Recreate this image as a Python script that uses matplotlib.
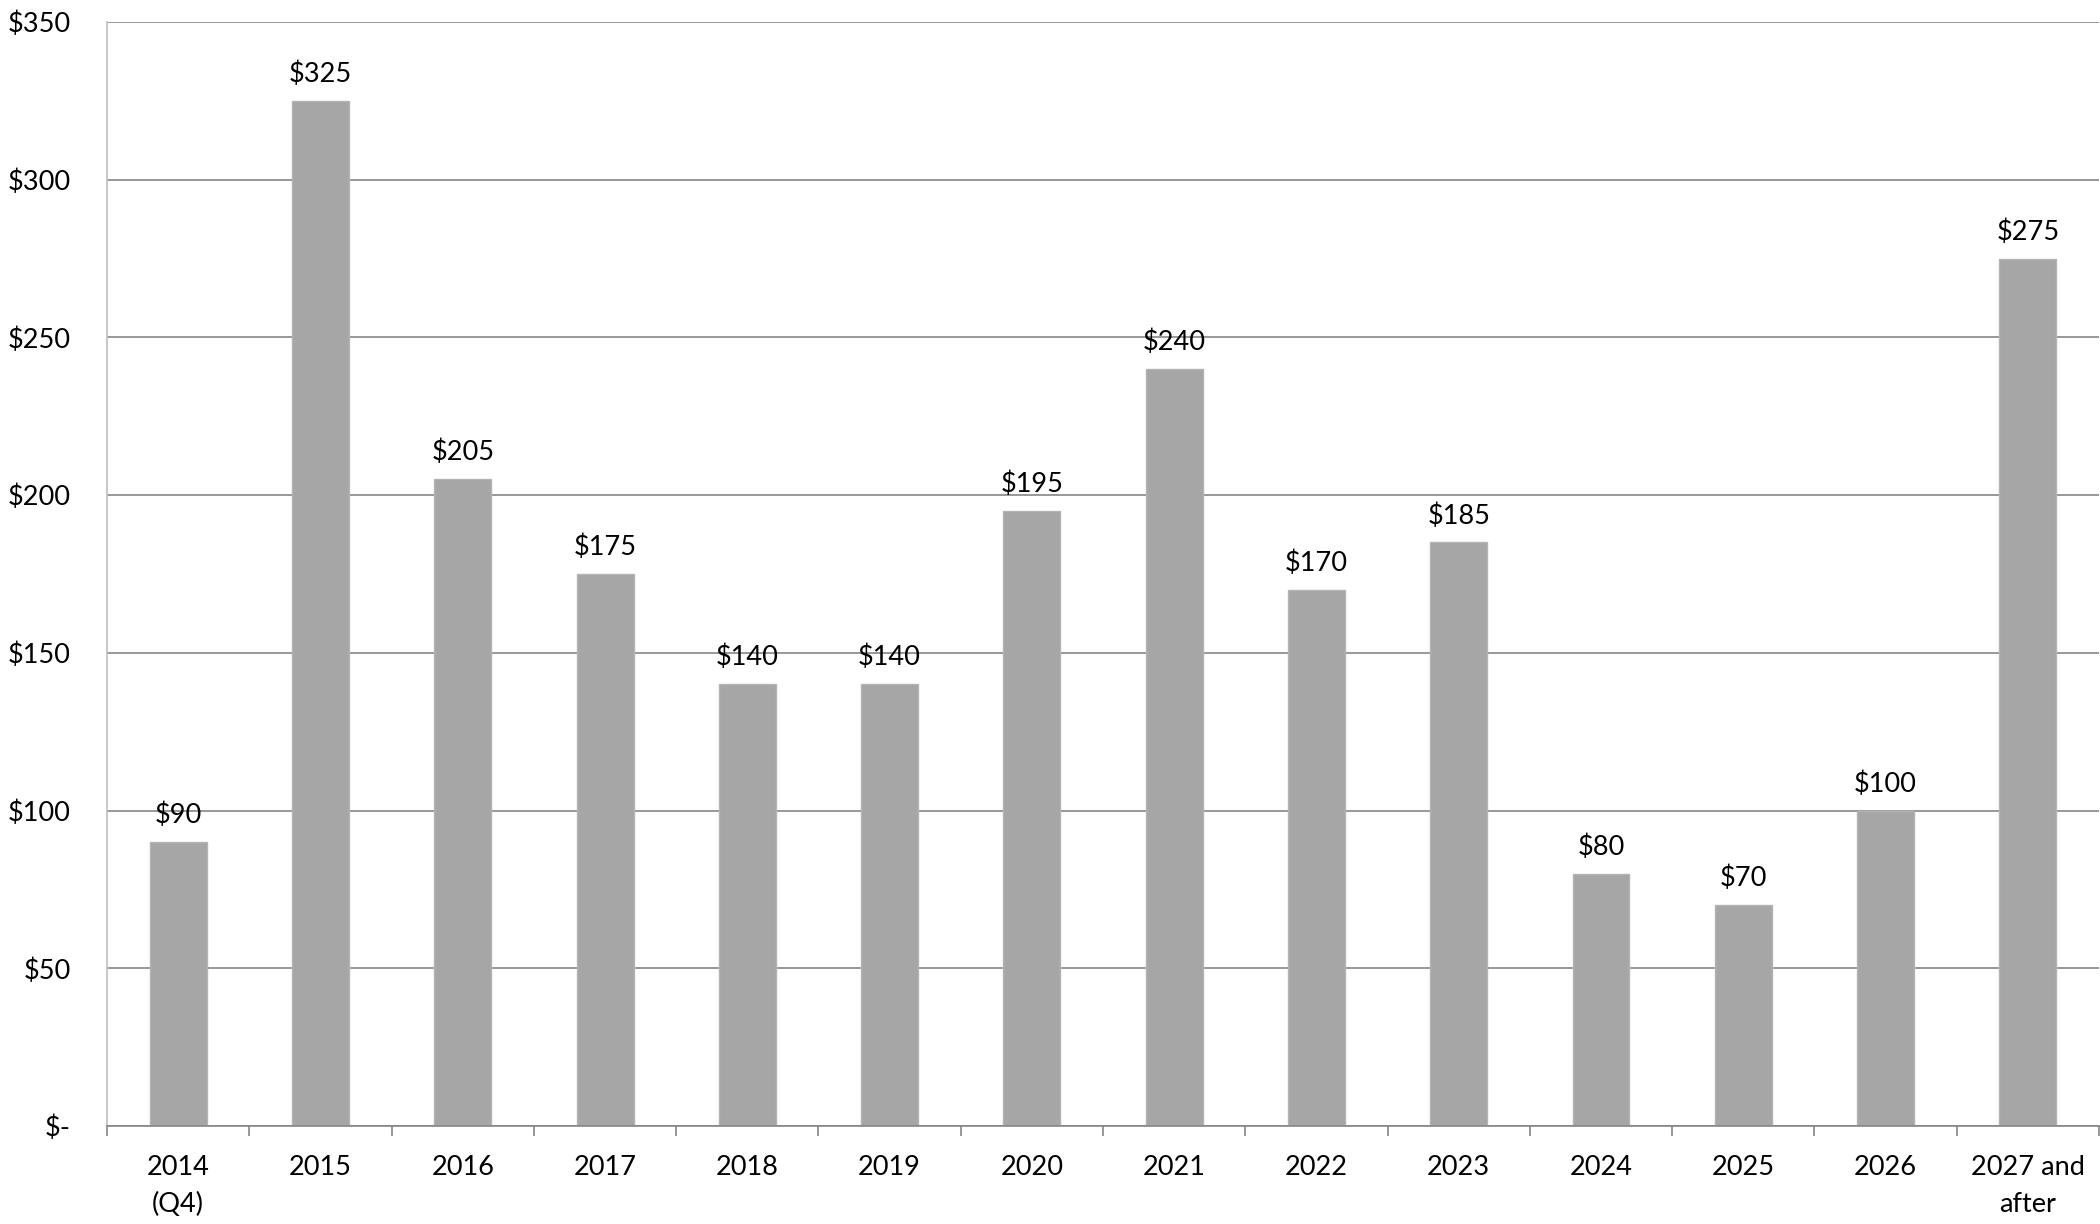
import numpy as np
import matplotlib.pyplot as plt
from matplotlib.ticker import FixedLocator, FuncFormatter

plt.rcParams['font.family'] = ['Lato', 'DejaVu Sans']

categories = ['2014\n(Q4)', '2015', '2016', '2017', '2018', '2019', '2020',
              '2021', '2022', '2023', '2024', '2025', '2026', '2027 and\nafter']
values = [90, 325, 205, 175, 140, 140, 195, 240, 170, 185, 80, 70, 100, 275]
y_ticks = [0, 50, 100, 150, 200, 250, 300, 350]

fig = plt.figure(figsize=(21, 12.24), dpi=100)
ax = fig.add_axes([0.051, 0.0801, 0.9485, 0.9019])

x = np.arange(len(categories))
ax.bar(x, values, width=0.4, color='#A6A6A6', edgecolor='#B4B4B4',
       linewidth=1, zorder=3)

# value labels above each bar
for xi, v in zip(x, values):
    ax.annotate('$' + str(v), (xi, v), xytext=(0, 10), textcoords='offset points',
                ha='center', va='bottom', fontsize=19.5, color='black')

ax.set_xlim(-0.5, len(categories) - 0.5)
ax.set_ylim(0, 350)
ax.set_yticks(y_ticks)
ax.yaxis.set_major_formatter(FuncFormatter(lambda v, p: '$-' if v == 0 else '$' + str(int(v))))
ax.grid(axis='y', color='#868686', linewidth=1.2, zorder=0)

ax.set_xticks(x)
ax.set_xticklabels(categories, fontsize=19.5, linespacing=1.6)
ax.xaxis.set_minor_locator(FixedLocator(np.arange(-0.5, len(categories), 1.0)))
ax.tick_params(axis='x', which='major', length=0, pad=21)
ax.tick_params(axis='x', which='minor', length=7, width=1.2, color='#868686')
ax.tick_params(axis='y', length=0, pad=26, labelsize=19.5)

for s in ['top', 'right']:
    ax.spines[s].set_visible(False)
ax.spines['left'].set_color('#BFBFBF')
ax.spines['left'].set_linewidth(1.2)
ax.spines['bottom'].set_color('#868686')
ax.spines['bottom'].set_linewidth(1.2)
ax.spines['bottom'].set_zorder(4)

fig.savefig('out.png', dpi=100)
